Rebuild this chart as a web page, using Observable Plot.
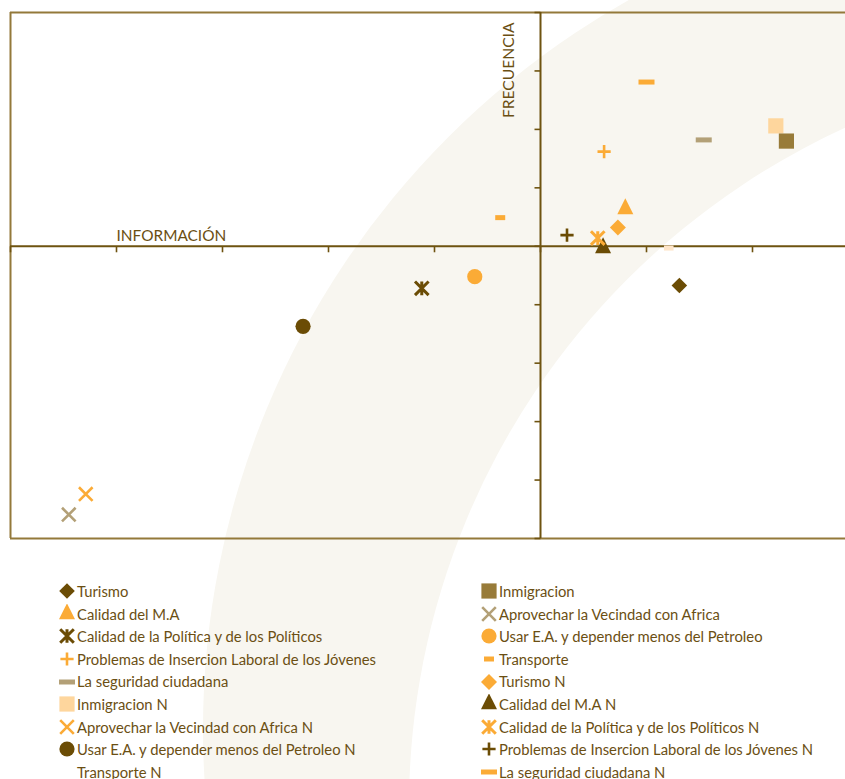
<!DOCTYPE html>
<html>
<head>
<meta charset="utf-8">
<script src="https://cdn.jsdelivr.net/npm/d3@7"></script>
<script src="https://cdn.jsdelivr.net/npm/@observablehq/plot@0.6"></script>
<style>
  html, body { margin: 0; padding: 0; background: #fff; overflow: hidden; }
  #wrap { position: relative; width: 845px; height: 779px; overflow: hidden; font-family: Lato, "Open Sans", sans-serif; }
  .disc { position: absolute; border-radius: 50%; }
  #chart { position: absolute; left: 0; top: 0; }
  #legend { position: absolute; left: 0; top: 580px; width: 845px; }
  .col { position: absolute; top: 0; }
  .item { height: 22.6px; line-height: 22.6px; white-space: nowrap; color: #6b4f13; font-size: 14.8px; display: flex; align-items: center; }
  .item svg { flex: none; }
</style>
</head>
<body>
<div id="wrap">
  <div class="disc" id="outer"></div>
  <div class="disc" id="inner"></div>
  <div id="chart"></div>
  <div id="legend"><div class="col" id="colL" style="left:58px"></div><div class="col" id="colR" style="left:480px"></div></div>
</div>
<script>
// ---------- data ----------
const seriesNames = [
  "Turismo", "Inmigracion", "Calidad del M.A", "Aprovechar la Vecindad con Africa",
  "Calidad de la Política y de los Políticos", "Usar E.A. y depender menos del Petroleo",
  "Problemas de Insercion Laboral de los Jóvenes", "Transporte", "La seguridad ciudadana",
  "Turismo N", "Inmigracion N", "Calidad del M.A N", "Aprovechar la Vecindad con Africa N",
  "Calidad de la Política y de los Políticos N", "Usar E.A. y depender menos del Petroleo N",
  "Problemas de Insercion Laboral de los Jóvenes N", "Transporte N", "La seguridad ciudadana N"
];
// INFORMACIÓN (horizontal)
const informacion = [1.31, 2.32, 0.80, -4.45, -1.12, -0.62, 0.60, -0.38, 1.54,
                     0.73, 2.22, 0.59, -4.29, 0.54, -2.24, 0.25, 1.21, 1.00];
// FRECUENCIA (vertical)
const frecuencia = [-0.67, 1.80, 0.64, -4.59, -0.72, -0.52, 1.62, 0.49, 1.82,
                    0.32, 2.06, -0.03, -4.24, 0.14, -1.37, 0.19, -0.03, 2.81];
const xTicks = [-5, -4, -3, -2, -1, 0, 1, 2, 3];
const yTicks = [-5, -4, -3, -2, -1, 0, 1, 2, 3, 4];
const xLabel = "INFORMACIÓN";
const yLabel = "FRECUENCIA";

// ---------- styles ----------
const DARK = "#6b4c05", OLIVE = "#987b39", ORANGE = "#fbab36", TAN = "#b3a077",
      PEACH = "#fed69d", PALE = "#fee5c9", AXIS = "#6e5310", FRAME = "#93793a", TEXT = "#6b4f13";

const rad = s => Math.sqrt(s / Math.PI);
const shapes = {
  diamond: {draw(c, s) { const r = rad(s); c.moveTo(0, -r); c.lineTo(r, 0); c.lineTo(0, r); c.lineTo(-r, 0); c.closePath(); }},
  square: {draw(c, s) { const r = rad(s); c.rect(-r, -r, 2 * r, 2 * r); }},
  triangle: {draw(c, s) { const r = rad(s); c.moveTo(0, -4 * r / 3); c.lineTo(r, 2 * r / 3); c.lineTo(-r, 2 * r / 3); c.closePath(); }},
  circle: {draw(c, s) { const r = rad(s); c.moveTo(r, 0); c.arc(0, 0, r, 0, 2 * Math.PI); c.closePath(); }},
  plus: {draw(c, s) { const r = rad(s); c.moveTo(-r, 0); c.lineTo(r, 0); c.moveTo(0, -r); c.lineTo(0, r); }},
  times: {draw(c, s) { const r = rad(s); c.moveTo(-r, -r); c.lineTo(r, r); c.moveTo(-r, r); c.lineTo(r, -r); }},
  asterisk: {draw(c, s) { const r = rad(s); c.moveTo(-r, -r); c.lineTo(r, r); c.moveTo(-r, r); c.lineTo(r, -r); c.moveTo(0, -r); c.lineTo(0, r); }},
  dash: {draw(c, s) { const r = rad(s); c.rect(-r, -2.5, 2 * r, 5); }},
  tickDown: {draw(c, s) { const r = rad(s); c.moveTo(0, 0); c.lineTo(0, r); }},
  tickLeft: {draw(c, s) { const r = rad(s); c.moveTo(0, 0); c.lineTo(-r, 0); }}
};
const lineShapes = new Set(["plus", "times", "asterisk"]);

const seriesStyle = {
  "Turismo": {shape: "diamond", color: DARK, r: 7.8},
  "Inmigracion": {shape: "square", color: OLIVE, r: 7.6},
  "Calidad del M.A": {shape: "triangle", color: ORANGE, r: 8},
  "Aprovechar la Vecindad con Africa": {shape: "times", color: TAN, r: 6.8},
  "Calidad de la Política y de los Políticos": {shape: "asterisk", color: DARK, r: 6.8, sw: 3},
  "Usar E.A. y depender menos del Petroleo": {shape: "circle", color: ORANGE, r: 7.6},
  "Problemas de Insercion Laboral de los Jóvenes": {shape: "plus", color: ORANGE, r: 6.6},
  "Transporte": {shape: "dash", color: ORANGE, r: 5},
  "La seguridad ciudadana": {shape: "dash", color: TAN, r: 8},
  "Turismo N": {shape: "diamond", color: ORANGE, r: 8},
  "Inmigracion N": {shape: "square", color: PEACH, r: 7.6},
  "Calidad del M.A N": {shape: "triangle", color: DARK, r: 8},
  "Aprovechar la Vecindad con Africa N": {shape: "times", color: ORANGE, r: 6.8},
  "Calidad de la Política y de los Políticos N": {shape: "asterisk", color: ORANGE, r: 6.8, sw: 3},
  "Usar E.A. y depender menos del Petroleo N": {shape: "circle", color: DARK, r: 7.6},
  "Problemas de Insercion Laboral de los Jóvenes N": {shape: "plus", color: DARK, r: 6.6},
  "Transporte N": {shape: "dash", color: PALE, r: 4.8, noLegend: true},
  "La seguridad ciudadana N": {shape: "dash", color: ORANGE, r: 8}
};

// ---------- background band (decoration) ----------
function disc(id, cx, cy, r, color) {
  const el = document.getElementById(id);
  Object.assign(el.style, {left: (cx - r) + "px", top: (cy - r) + "px", width: 2 * r + "px", height: 2 * r + "px", background: color});
}
disc("outer", 1040, 729, 837, "#f8f6f0");
disc("inner", 1156, 807, 747, "#ffffff");

// ---------- chart ----------
const table = seriesNames.map((name, i) => ({name, x: informacion[i], y: frecuencia[i]}));
// "N" series first, originals drawn on top
const drawOrder = [...table.filter(d => d.name.endsWith(" N")), ...table.filter(d => !d.name.endsWith(" N"))];

const dotMarks = drawOrder.map(d => {
  const st = seriesStyle[d.name];
  const isLine = lineShapes.has(st.shape);
  return Plot.dot([d], {
    x: "x", y: "y", r: st.r, symbol: shapes[st.shape],
    fill: isLine ? "none" : st.color,
    stroke: isLine ? st.color : "none",
    strokeWidth: isLine ? (st.sw || 2.6) : 0
  });
});

const chart = Plot.plot({
  width: 845, height: 560,
  marginLeft: 10, marginRight: -13, marginTop: 12, marginBottom: 22,
  x: {domain: [-5, 3], axis: null},
  y: {domain: [-5, 4], axis: null},
  style: {background: "transparent", overflow: "hidden", fontFamily: "Lato, 'Open Sans', sans-serif"},
  marks: [
    Plot.ruleY([-5, 4], {stroke: FRAME, strokeWidth: 2}),
    Plot.ruleX([-5], {stroke: FRAME, strokeWidth: 2}),
    Plot.ruleY([0], {stroke: AXIS, strokeWidth: 2}),
    Plot.ruleX([0], {stroke: AXIS, strokeWidth: 2}),
    Plot.dot(xTicks, {x: d => d, y: 0, symbol: shapes.tickDown, r: 6, stroke: AXIS, fill: "none", strokeWidth: 1.6}),
    Plot.dot(yTicks, {x: 0, y: d => d, symbol: shapes.tickLeft, r: 6, stroke: AXIS, fill: "none", strokeWidth: 1.6}),
    Plot.text([xLabel], {x: -4, y: 0, text: d => d, textAnchor: "start", lineAnchor: "bottom", dy: -5, fontSize: 15.4, fill: TEXT}),
    Plot.text([yLabel], {x: 0, y: 4, text: d => d, rotate: -90, textAnchor: "end", lineAnchor: "bottom", dx: -27, dy: 10, fontSize: 15.6, fill: TEXT}),
    ...dotMarks
  ]
});
document.getElementById("chart").appendChild(chart);

// ---------- legend ----------
function swatch(name) {
  const st = seriesStyle[name];
  const svg = d3.create("svg").attr("width", 19).attr("height", 20).attr("viewBox", "-9 -10 19 20");
  if (!st.noLegend) {
    const isLine = lineShapes.has(st.shape);
    svg.append("path")
      .attr("d", d3.symbol(shapes[st.shape], st.r * st.r * Math.PI)())
      .attr("fill", isLine ? "none" : st.color)
      .attr("stroke", isLine ? st.color : "none")
      .attr("stroke-width", isLine ? (st.sw || 2.6) : 0);
  }
  return svg.node();
}
seriesNames.forEach((name, i) => {
  const col = document.getElementById(i % 2 === 0 ? "colL" : "colR");
  const item = document.createElement("div");
  item.className = "item";
  item.appendChild(swatch(name));
  const span = document.createElement("span");
  span.textContent = name;
  item.appendChild(span);
  col.appendChild(item);
});
</script>
</body>
</html>
